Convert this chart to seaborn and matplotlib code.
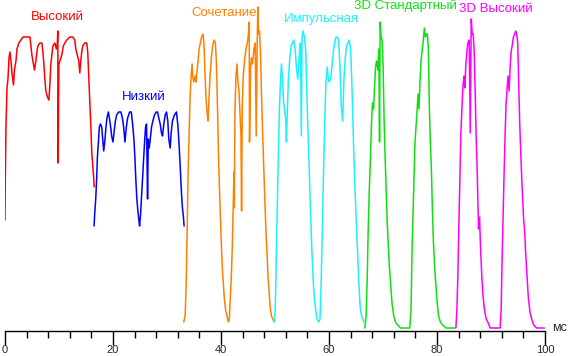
import matplotlib
matplotlib.use("Agg")
import matplotlib.pyplot as plt
import seaborn as sns
import pandas as pd
from matplotlib.ticker import MultipleLocator

sns.set_style("white")
plt.rcParams['font.family'] = ['Liberation Sans', 'DejaVu Sans']

# ---- data: time (ms) and brightness (relative, %) ----
modes = ["Высокий", "Низкий", "Сочетание", "Импульсная", "3D Стандартный", "3D Высокий"]
colors = ["#FF0000", "#0000FF", "#FF8000", "#1EF0FF", "#10E010", "#FF00FF"]

red_t = [0.0, 0.05, 0.18, 0.37, 0.55, 0.74, 0.92, 1.11, 1.29, 1.57, 1.75, 2.03, 2.22, 2.58, 2.95, 3.32, 3.88, 4.25, 4.62, 4.80,
         4.98, 5.17, 5.45, 5.72, 5.91, 6.09, 6.46, 6.83, 7.02, 7.20, 7.38, 7.57, 7.85, 8.12, 8.31, 8.49, 8.68, 8.86, 9.23, 9.51,
         9.69, 9.78, 9.84, 9.97, 10.15, 10.34, 10.52, 10.80, 11.08, 11.45, 12.0, 12.55, 12.92, 13.11, 13.38, 13.66, 13.85, 14.03,
         14.21, 14.40, 14.77, 15.14, 15.32, 15.51, 15.69, 15.88, 16.06, 16.25, 16.43, 16.52]
red_v = [37, 50, 68, 81, 84, 91, 93, 90, 86, 82, 87, 90, 94, 96, 97, 98, 98, 98, 98, 95,
         92, 90, 87, 90, 93, 95, 96, 96, 93, 89, 84, 80, 78, 77, 82, 89, 92, 95, 96, 94,
         96, 100, 56, 89, 90, 91, 92, 95, 96, 97, 98, 98, 97, 94, 92, 90, 86, 90,
         93, 95, 96, 96, 93, 85, 77, 69, 60, 55, 51, 48]

blue_t = [16.49, 16.61, 16.80, 16.98, 17.11, 17.30, 17.48, 17.67, 17.91, 18.09, 18.28, 18.52, 18.70, 18.88, 19.14, 19.33,
          19.57, 19.75, 19.99, 20.18, 20.44, 20.68, 21.05, 21.47, 21.73, 21.97, 22.21, 22.47, 22.71, 23.08, 23.39, 23.63,
          23.87, 24.05, 24.24, 24.42, 24.61, 24.79, 24.92, 25.11, 25.29, 25.48, 25.66, 25.85, 26.03, 26.21, 26.40, 26.53,
          26.71, 26.90, 27.14, 27.38, 27.69, 28.0, 28.24, 28.48, 28.74, 28.98, 29.17, 29.41, 29.67, 29.91, 30.15, 30.33,
          30.59, 30.77, 31.01, 31.38, 31.75, 31.99, 32.18, 32.44, 32.68, 32.86, 33.04, 33.17]
blue_v = [35, 39, 44, 51, 58, 63, 68, 69, 68, 64, 60, 64, 68, 71, 73, 71,
          68, 65, 63, 66, 70, 72, 73, 73, 71, 68, 63, 68, 71, 73, 73, 69,
          64, 58, 50, 44, 40, 37, 35, 39, 45, 51, 57, 63, 68, 69, 44, 64,
          61, 64, 68, 70, 72, 73, 73, 71, 69, 66, 65, 69, 72, 73, 70, 64,
          61, 66, 70, 72, 73, 69, 64, 55, 46, 41, 38, 35]

orange_t = [33.10, 33.36, 33.54, 33.73, 33.91, 34.10, 34.28, 34.47, 34.65, 34.76, 34.95, 35.20, 35.39, 35.57, 35.76, 35.94,
            36.18, 36.42, 36.68, 36.87, 37.05, 37.24, 37.42, 37.60, 37.79, 37.97, 38.21, 38.45, 38.71, 38.95, 39.14, 39.32,
            39.51, 39.69, 39.87, 40.06, 40.24, 40.43, 40.61, 40.85, 41.11, 41.35, 41.54, 41.72, 41.91, 42.09, 42.28, 42.40,
            42.46, 42.59, 42.77, 42.96, 43.14, 43.33, 43.51, 43.70, 43.81, 43.94, 44.12, 44.36, 44.62, 44.86, 45.04, 45.23,
            45.28, 45.47, 45.65, 45.84, 46.10, 46.34, 46.52, 46.71, 46.83, 46.94, 47.13, 47.31, 47.50, 47.68, 47.87, 48.13,
            48.31, 48.55, 48.74, 48.92, 49.10, 49.34, 49.60, 49.84]
orange_v = [3, 5, 15, 33, 53, 66, 78, 85, 89, 85, 83, 85, 83, 87, 90, 94,
            96, 98, 99, 95, 85, 77, 73, 70, 78, 85, 91, 95, 97, 96, 90, 77,
            61, 49, 39, 29, 21, 16, 11, 7, 5, 3, 4, 11, 18, 28, 43, 53,
            41, 74, 85, 89, 83, 80, 73, 65, 40, 75, 85, 90, 94, 96, 98, 103,
            63, 87, 91, 89, 94, 96, 65, 97, 108, 99, 100, 93, 79, 68, 57, 43,
            34, 25, 17, 13, 8, 5, 4, 3]

cyan_t = [49.84, 50.03, 50.16, 50.27, 50.45, 50.64, 50.82, 51.01, 51.19, 51.38, 51.56, 51.74, 52.0, 52.11, 52.30, 52.48,
          52.74, 52.98, 53.22, 53.48, 53.72, 53.96, 54.22, 54.46, 54.70, 54.88, 55.01, 55.20, 55.44, 55.70, 55.88, 56.06,
          56.25, 56.43, 56.62, 56.80, 57.04, 57.28, 57.54, 57.78, 58.09, 58.33, 58.52, 58.70, 58.89, 59.07, 59.26, 59.44,
          59.68, 59.87, 60.05, 60.31, 60.55, 60.79, 61.05, 61.29, 61.53, 61.79, 62.03, 62.27, 62.53, 62.77, 63.01, 63.26,
          63.50, 63.74, 64.0, 64.19, 64.37, 64.56, 64.80, 65.04, 65.30, 65.54, 65.77, 66.03, 66.27, 66.46]
cyan_v = [3, 7, 16, 28, 44, 60, 74, 83, 89, 84, 77, 74, 70, 63, 74, 84,
          91, 95, 96, 97, 94, 88, 84, 91, 96, 65, 98, 100, 98, 93, 81, 69,
          59, 48, 38, 28, 18, 11, 7, 4, 3, 4, 14, 28, 45, 59, 73, 83,
          88, 84, 83, 84, 88, 93, 96, 98, 98, 97, 88, 75, 70, 84, 91, 95,
          96, 97, 94, 85, 74, 61, 48, 37, 26, 16, 8, 5, 4, 3]

green_t = [66.64, 66.88, 67.07, 67.25, 67.44, 67.69, 67.88, 68.06, 68.25, 68.43, 68.62, 68.80, 69.04, 69.23, 69.36, 69.47,
           69.65, 69.84, 70.02, 70.20, 70.39, 70.57, 70.76, 70.94, 71.20, 71.44, 71.68, 72.0, 72.31, 72.73, 73.23, 74.15,
           74.95, 75.19, 75.37, 75.56, 75.74, 75.93, 76.11, 76.30, 76.48, 76.67, 76.85, 77.04, 77.22, 77.41, 77.66, 77.85,
           78.03, 78.22, 78.40, 78.59, 78.77, 78.96, 79.14, 79.33, 79.57, 79.81, 80.06, 80.30, 80.62, 81.04, 81.66, 82.76,
           83.39]
green_v = [1, 5, 17, 33, 46, 58, 70, 76, 74, 81, 88, 90, 87, 94, 63, 103,
           98, 97, 88, 71, 58, 48, 37, 30, 21, 15, 9, 5, 3, 2, 1, 1,
           1, 7, 26, 39, 51, 63, 68, 73, 79, 74, 83, 90, 93, 96, 101, 98,
           99, 99, 94, 74, 63, 54, 41, 30, 21, 15, 9, 5, 3, 2, 1, 1,
           1]

magenta_t = [83.50, 83.68, 83.87, 84.05, 84.24, 84.42, 84.61, 84.79, 84.98, 85.16, 85.34, 85.53, 85.71, 85.97, 86.16, 86.34,
             86.53, 86.71, 86.89, 87.08, 87.26, 87.45, 87.56, 87.69, 87.87, 88.06, 88.30, 88.56, 88.80, 89.11, 89.41, 89.85,
             90.77, 91.69, 91.88, 92.06, 92.25, 92.43, 92.62, 92.80, 92.99, 93.17, 93.36, 93.54, 93.72, 93.91, 94.15, 94.39,
             94.58, 94.76, 94.95, 95.13, 95.32, 95.50, 95.69, 95.87, 96.05, 96.24, 96.42, 96.68, 96.92, 97.24, 97.53, 97.90,
             98.45, 99.38, 99.88]
magenta_v = [1, 7, 19, 35, 51, 66, 74, 81, 85, 81, 89, 93, 96, 97, 66, 104,
             99, 99, 93, 79, 64, 53, 44, 34, 38, 28, 18, 11, 7, 4, 3, 1,
             1, 1, 7, 24, 39, 53, 66, 76, 81, 85, 80, 88, 93, 95, 98, 99,
             100, 99, 96, 83, 69, 60, 51, 44, 37, 33, 26, 18, 11, 6, 4, 2,
             1, 1, 1]

# label positions (ms, %) for the mode names
label_t = [4.8, 21.6, 34.5, 51.6, 64.7, 84.0]
label_v = [104.5, 78.0, 106.0, 104.0, 108.3, 107.3]

x_ticks = [0, 20, 40, 60, 80, 100]
x_unit = "мс"

series_t = [red_t, blue_t, orange_t, cyan_t, green_t, magenta_t]
series_v = [red_v, blue_v, orange_v, cyan_v, green_v, magenta_v]

frames = []
for m, t, v in zip(modes, series_t, series_v):
    frames.append(pd.DataFrame({"t": t, "v": v, "mode": m}))
df = pd.concat(frames, ignore_index=True)

fig = plt.figure(figsize=(5.69, 3.56), dpi=100)
ax = fig.add_axes([5 / 569, 25 / 356, 540 / 569, 330 / 356])

sns.lineplot(data=df, x="t", y="v", hue="mode", palette=dict(zip(modes, colors)),
             sort=False, estimator=None, units="mode", legend=False, linewidth=1.1, ax=ax)

for m, c, tx, ty in zip(modes, colors, label_t, label_v):
    ax.text(tx, ty, m, color=c, fontsize=9.5, va="center", ha="left")

ax.set_xlim(0, 100)
ax.set_ylim(0, 110)
ax.set_xlabel("")
ax.set_ylabel("")
ax.set_yticks([])
ax.set_xticks(x_ticks)
ax.xaxis.set_minor_locator(MultipleLocator(4))
ax.tick_params(axis="x", which="major", direction="out", length=10, width=1, color="black",
               labelsize=8, pad=0.3, bottom=True)
ax.tick_params(axis="x", which="minor", direction="out", length=5, width=1, color="black", bottom=True)
for s in ["top", "left", "right"]:
    ax.spines[s].set_visible(False)
ax.spines["bottom"].set_color("black")
ax.spines["bottom"].set_linewidth(1)
ax.text(101.3, 1.0, x_unit, fontsize=9, ha="left", va="center", clip_on=False)
ax.set_facecolor("white")
fig.patch.set_facecolor("white")

fig.savefig("out.png", dpi=100)
